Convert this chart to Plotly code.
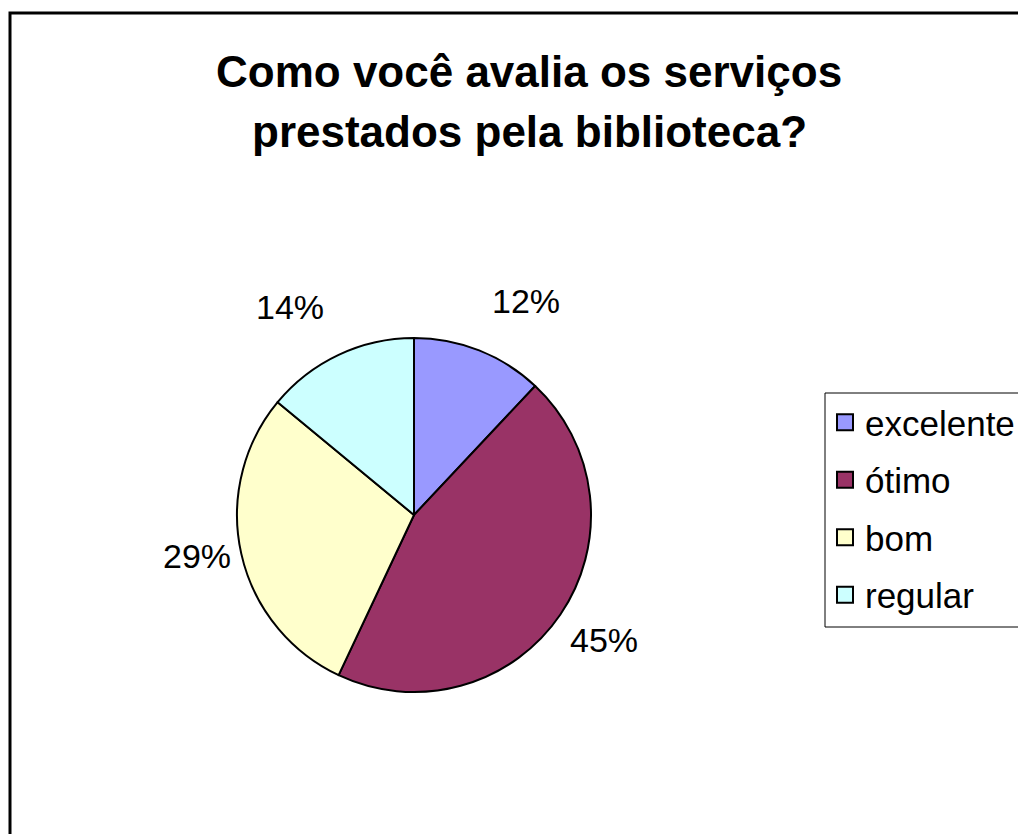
import math
import plotly.graph_objects as go

categories = ["excelente", "ótimo", "bom", "regular"]
values = [12, 45, 29, 14]
colors = ["#9999FF", "#993366", "#FFFFCC", "#CCFFFF"]
title_lines = ["Como você avalia os serviços", "prestados pela biblioteca?"]

W, H = 1026, 834
OFF = 8  # page body margin: screen px -> figure px
cx, cy, R = 414 - OFF, 515 - OFF, 177  # pie centre / radius in figure pixels

fig = go.Figure()
fig.add_trace(go.Pie(
    labels=categories, values=values, sort=False, direction="clockwise", rotation=0,
    marker=dict(colors=colors, line=dict(color="black", width=2)),
    textinfo="none", hoverinfo="label+percent", showlegend=False,
    domain=dict(x=[(cx - R) / W, (cx + R) / W], y=[1 - (cy + R) / H, 1 - (cy - R) / H]),
))

# legend entries
for cat, col in zip(categories, colors):
    fig.add_trace(go.Scatter(
        x=[None], y=[None], mode="markers", name=cat, legendgroup=cat,
        marker=dict(symbol="square", size=18, color=col, line=dict(color="black", width=2)),
    ))

# percentage labels placed just outside the slice mid-angles
total = sum(values)
cum = 0
annotations = []
for v in values:
    mid = (cum + v / 2) / total * 2 * math.pi
    cum += v
    s, c = math.sin(mid), math.cos(mid)
    d = R * (1.17 if c > 0.4 else 1.05)
    px = cx + d * s
    py = cy - d * c
    xa = "left" if s >= 0 else "right"
    if abs(c) < 0.4:
        ya = "middle"
    else:
        ya = "bottom" if c > 0 else "top"
    annotations.append(dict(
        x=px / W, y=1 - py / H, xref="paper", yref="paper",
        text=f"{round(v / total * 100)}%", showarrow=False,
        xanchor=xa, yanchor=ya,
        font=dict(family="Liberation Sans, Arial", size=34, color="black"),
    ))

TFS = 44
title_base = [87 - OFF, 147 - OFF]
for line, tb in zip(title_lines, title_base):
    annotations.append(dict(
        x=(529 - OFF) / W, y=1 - (tb - 0.35 * TFS) / H, xref="paper", yref="paper",
        text=f"<b>{line}</b>", showarrow=False, xanchor="center", yanchor="middle",
        font=dict(family="Liberation Sans, Arial", size=TFS, color="black"),
    ))

LEG_L, LEG_T, LEG_B = 825 - OFF, 393 - OFF, 627 - OFF

fig.update_layout(
    width=W, height=H, autosize=False,
    margin=dict(l=0, r=0, t=0, b=0),
    paper_bgcolor="white", plot_bgcolor="white",
    xaxis=dict(visible=False), yaxis=dict(visible=False),
    annotations=annotations,
    legend=dict(
        x=LEG_L / W, y=1 - LEG_T / H, xanchor="left", yanchor="top",
        borderwidth=0, bgcolor="rgba(0,0,0,0)",
        font=dict(family="Liberation Sans, Arial", size=35, color="black"),
        tracegroupgap=9,
    ),
    shapes=[
        dict(type="rect", xref="paper", yref="paper",
             x0=(10 - OFF) / W, y0=-0.05, x1=1.05, y1=1 - (13 - OFF) / H,
             line=dict(color="black", width=3)),
        dict(type="rect", xref="paper", yref="paper",
             x0=LEG_L / W, y0=1 - LEG_B / H, x1=1.05, y1=1 - LEG_T / H,
             line=dict(color="black", width=1)),
    ],
)

fig.write_html("out.html")
